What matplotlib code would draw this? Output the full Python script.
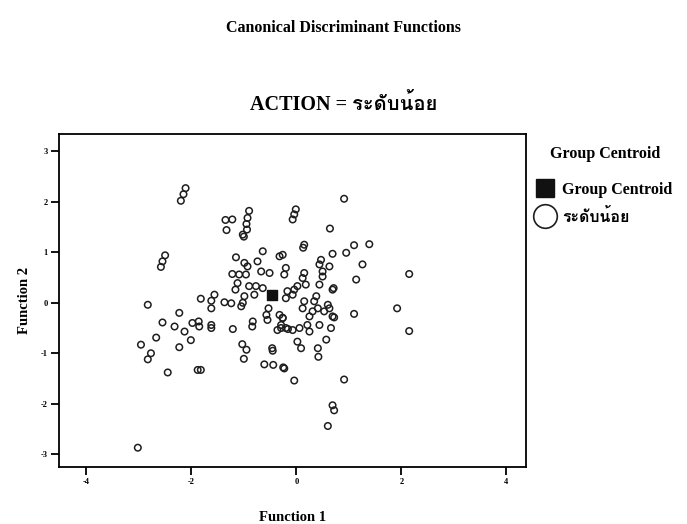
import matplotlib
matplotlib.use("Agg")
import matplotlib.pyplot as plt
from matplotlib import font_manager
from matplotlib.ft2font import FT2Font
from matplotlib.lines import Line2D

# Function 1 / Function 2 scores (group: ระดับน้อย)
func1 = [
    -2.11, -2.15, -2.20,
    -0.90, -0.93, -0.95, -0.94, -1.02, -1.00,
    -1.35, -1.22, -1.33,
    -2.50, -2.55, -2.58,
    -1.15, -0.99, -0.93, -0.96, -1.09, -1.22, -0.64, -0.74, -0.67, -0.51,
    -0.32, -0.26, -0.23, -0.20,
    -1.12, -1.16, -0.99, -0.90, -0.77, -0.64, -0.80, -1.05, -1.02,
    -1.56, -1.62, -1.62, -1.82, -1.37, -1.24,
    -2.83, -2.23,
    -2.55, -2.32, -2.13, -1.98, -1.86, -1.85, -1.62, -1.62, -2.01,
    -2.67, -2.96, -2.77, -2.83, -2.23, -2.45, -1.88, -1.82,
    -1.21, -0.83, -0.84,
    -1.03, -0.95, -1.00,
    -0.53, -0.57, -0.55, -0.26, -0.29, -0.36, -0.20,
    -0.46, -0.45,
    -0.61, -0.44, -0.25,
    0.91, -0.01, -0.04, -0.07, 0.64, 0.15, 0.13,
    1.10, 1.39, 0.95, 0.69, 0.47, 0.44, 0.63, 0.50, 1.26, 1.14,
    2.15,
    0.15, 0.12, 0.18, 0.44, 0.50, 0.69, 0.71, 0.02, -0.04, -0.07, -0.17, -0.20,
    0.38, 0.34, 0.15, 0.12, 0.60, 0.63, 0.69, 0.72, 0.53, 0.41, 0.31, 0.25,
    0.44, 0.66, 0.21, 0.25, 0.06, -0.07, -0.16, -0.29, -0.26, -0.32,
    0.02, 0.09, 0.41, 0.42, 0.57, 1.10, 1.92, 2.15, -0.23, -0.04, 0.91,
    0.69, 0.72, 0.60, -3.02,
]
func2 = [
    2.27, 2.15, 2.02,
    1.82, 1.68, 1.56, 1.45, 1.35, 1.31,
    1.64, 1.65, 1.44,
    0.94, 0.82, 0.71,
    0.90, 0.79, 0.72, 0.56, 0.56, 0.57, 1.02, 0.82, 0.62, 0.59,
    0.92, 0.95, 0.56, 0.69,
    0.39, 0.26, 0.13, 0.33, 0.33, 0.29, 0.16, -0.07, 0.00,
    0.16, 0.04, -0.11, 0.08, 0.01, -0.01,
    -0.04, -0.20,
    -0.39, -0.47, -0.57, -0.40, -0.37, -0.47, -0.44, -0.50, -0.74,
    -0.69, -0.83, -1.00, -1.12, -0.88, -1.38, -1.33, -1.33,
    -0.52, -0.37, -0.47,
    -0.82, -0.93, -1.11,
    -0.11, -0.24, -0.34, -0.30, -0.44, -0.54, -0.50,
    -0.90, -0.95,
    -1.22, -1.23, -1.28,
    2.06, 1.85, 1.75, 1.65, 1.47, 1.15, 1.09,
    1.14, 1.16, 0.99, 0.97, 0.85, 0.76, 0.72, 0.62, 0.76, 0.46,
    0.57,
    0.59, 0.49, 0.36, 0.36, 0.52, 0.26, 0.29, 0.33, 0.26, 0.16, 0.23, 0.09,
    0.13, 0.03, 0.03, -0.11, -0.04, -0.11, -0.27, -0.29, -0.17, -0.11, -0.17, -0.27,
    -0.44, -0.50, -0.44, -0.57, -0.50, -0.54, -0.52, -0.50, -0.30, -0.24,
    -0.77, -0.90, -0.90, -1.07, -0.73, -0.22, -0.11, -0.56, -1.30, -1.54, -1.52,
    -2.03, -2.13, -2.44, -2.87,
]
centroid = (-0.46, 0.15)

group_label = "ระดับน้อย"
title = "Canonical Discriminant Functions"
subtitle = "ACTION = " + group_label
xticks = [-4, -2, 0, 2, 4]
yticks = [-3, -2, -1, 0, 1, 2, 3]


def thai_family():
    """First installed family that has Thai glyphs, if any."""
    for f in font_manager.fontManager.ttflist:
        try:
            if 0x0E23 in FT2Font(f.fname).get_charmap():
                return f.name
        except Exception:
            continue
    return None


fams = ["Liberation Serif"]
th = thai_family()
if th:
    fams.append(th)
fams.append("DejaVu Sans")
plt.rcParams["font.family"] = fams
plt.rcParams["font.weight"] = "bold"
plt.rcParams["axes.unicode_minus"] = False  # SPSS prints a plain hyphen

fig = plt.figure(figsize=(6.87, 5.24), dpi=100)
ax = fig.add_axes([0.086, 0.109, 0.68, 0.636])

ax.scatter(func1, func2, s=22, facecolors="none", edgecolors="#1e1e1e",
           linewidths=1.1, zorder=2)
ax.scatter([centroid[0]], [centroid[1]], marker="s", s=55, color="#111111",
           zorder=3)

ax.set_xlim(-4.52, 4.38)
ax.set_ylim(-3.25, 3.35)
ax.set_xticks(xticks)
ax.set_yticks(yticks)
ax.tick_params(direction="out", length=6, width=1.3, labelsize=6, pad=2)
for s in ax.spines.values():
    s.set_linewidth(1.3)

ax.set_xlabel("Function 1", fontsize=10.5, fontweight="bold", labelpad=18)
ax.set_ylabel("Function 2", fontsize=10.5, fontweight="bold", labelpad=7)
fig.text(0.5, 0.80, subtitle, ha="center", va="center", fontsize=14.5,
         fontweight="bold")
fig.text(0.5, 0.947, title, ha="center", va="center", fontsize=11.5,
         fontweight="bold")

handles = [
    Line2D([], [], marker="s", linestyle="none", markersize=13,
           color="#111111"),
    Line2D([], [], marker="o", linestyle="none", markersize=17,
           markerfacecolor="none", markeredgecolor="#1e1e1e",
           markeredgewidth=1.2),
]
leg = ax.legend(handles, ["Group Centroid", group_label], title="Group Centroid",
                loc="upper left", bbox_to_anchor=(1.0, 0.996), frameon=False,
                fontsize=11.5, handlelength=1.0, handletextpad=0.55,
                labelspacing=0.7, borderpad=0.2,
                title_fontproperties={"weight": "bold", "size": 11.5})
leg._legend_box.sep = 14

fig.savefig("out.png", dpi=100, facecolor="white")
